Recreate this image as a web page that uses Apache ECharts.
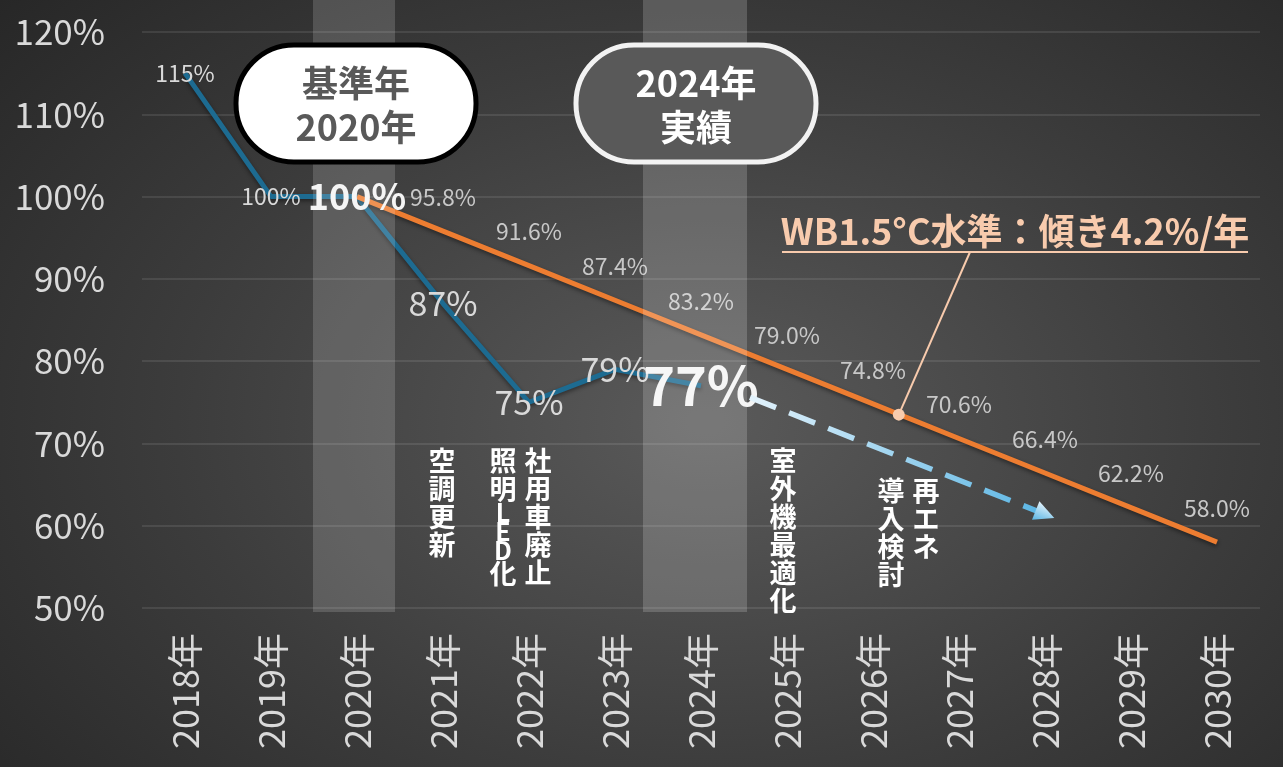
<!DOCTYPE html>
<html>
<head>
<meta charset="utf-8">
<script src="https://cdn.jsdelivr.net/npm/echarts/dist/echarts.min.js"></script>
<style>
html, body { margin: 0; padding: 0; }
#main {
    width: 1283px; height: 767px;
    background: radial-gradient(ellipse 75% 85% at 55% 55%, #5a5a5a 0%, #3c3c3c 55%, #262626 100%);
}
</style>
</head>
<body>
<div id="main"></div>
<script>
var years = ['2018年', '2019年', '2020年', '2021年', '2022年', '2023年', '2024年',
             '2025年', '2026年', '2027年', '2028年', '2029年', '2030年'];
// 実績 (2020 = 100%)
var actual = [115, 100, 100, 87, 75, 79, 77];
// WB1.5°C水準 (-4.2%/年)
var target = [null, null, 100, 95.8, 91.6, 87.4, 83.2, 79.0, 74.8, 70.6, 66.4, 62.2, 58.0];
// 見通し矢印 [category index, %]
var outlook = [[6.57, 75.6], [10.0, 61.4]];
var wbAnchor = [8.3, 73.5];
var yMin = 50, yMax = 120, yStep = 10;

var FONT = "'Noto Sans CJK JP', 'Noto Sans', sans-serif";

function actualLabel(i) {
    if (i === 2) return { show: true, position: 'inside', fontSize: 36, fontWeight: 'bold', color: '#f4f4f4' };
    if (i === 6) return { show: true, position: 'inside', fontSize: 54, fontWeight: 'bold', color: '#f4f4f4' };
    if (i < 2) return { show: true, position: 'inside', fontSize: 23, color: '#d9d9d9' };
    return { show: true, position: 'inside', fontSize: 34, color: '#d9d9d9' };
}

var actualData = actual.map(function (v, i) {
    return { value: v, label: actualLabel(i) };
});
var targetData = target.map(function (v, i) {
    if (v === null) return null;
    return { value: v, label: { show: i > 2 } };
});

var chart = echarts.init(document.getElementById('main'));

var option = {
    backgroundColor: 'transparent',
    animation: false,
    textStyle: { fontFamily: FONT },
    grid: { left: 142, right: 23, top: 32, bottom: 159 },
    xAxis: [{
        type: 'category',
        data: years,
        boundaryGap: true,
        axisLine: { show: false },
        axisTick: { show: false },
        axisLabel: { rotate: 90, fontSize: 36, color: '#d9d9d9', margin: 25, fontFamily: FONT }
    }, {
        type: 'value',
        min: -0.5, max: 12.5,
        show: false
    }],
    yAxis: {
        type: 'value',
        min: yMin, max: yMax, interval: yStep,
        axisLine: { show: false },
        axisTick: { show: false },
        axisLabel: { formatter: '{value}%', fontSize: 35, color: '#d9d9d9', margin: 37, fontFamily: FONT },
        splitLine: { lineStyle: { color: 'rgba(255,255,255,0.13)', width: 1.5 } }
    },
    series: [{
        name: '実績',
        type: 'line',
        data: actualData,
        symbol: 'circle',
        symbolSize: 1,
        showSymbol: true,
        itemStyle: { color: 'rgba(0,0,0,0)' },
        z: 2,
        lineStyle: { color: '#1d6b91', width: 5, shadowColor: 'rgba(0,0,0,0.45)', shadowBlur: 4, shadowOffsetY: 2 },
        label: {
            fontFamily: FONT,
            formatter: function (p) { return p.value + '%'; }
        }
    }, {
        name: 'WB1.5°C水準',
        type: 'line',
        data: targetData,
        symbol: 'circle',
        symbolSize: 1,
        showSymbol: true,
        itemStyle: { color: 'rgba(0,0,0,0)' },
        z: 2,
        lineStyle: { color: '#ed7d31', width: 5, shadowColor: 'rgba(0,0,0,0.45)', shadowBlur: 4, shadowOffsetY: 2 },
        label: {
            position: 'top', distance: 22, fontSize: 23, color: '#c8c8c8', fontFamily: FONT,
            formatter: function (p) { return p.value.toFixed(1) + '%'; }
        }
    }, {
        name: '見通し',
        type: 'line',
        xAxisIndex: 1,
        data: [],
        markLine: {
            silent: true,
            symbol: ['none', 'triangle'],
            symbolSize: [20, 20],
            label: { show: false },
            lineStyle: {
                type: [28, 14],
                width: 5.5,
                color: new echarts.graphic.LinearGradient(0, 0, 1, 0, [
                    { offset: 0, color: '#e4f3fc' },
                    { offset: 1, color: '#58b4e3' }
                ])
            },
            data: [[{ coord: outlook[0] }, { coord: outlook[1], itemStyle: { color: '#58b4e3' } }]]
        }
    }]
};
chart.setOption(option);

function px(cat) { return chart.convertToPixel({ xAxisIndex: 0 }, cat); }
function py(v) { return chart.convertToPixel({ yAxisIndex: 0 }, v); }

function vtext(str) {
    return str.split('').map(function (ch) {
        return /[A-Za-z]/.test(ch) ? '{l|' + ch + '}' : '{c|' + ch + '}';
    }).join('\n');
}
function vlabel(str, x, y) {
    return {
        type: 'text', z: 6, x: x, y: y,
        style: {
            text: vtext(str),
            align: 'center', textAlign: 'center',
            verticalAlign: 'top', textVerticalAlign: 'top',
            rich: {
                c: { fontSize: 27, fontWeight: 'bold', lineHeight: 28, fill: '#ffffff', fontFamily: FONT, align: 'center' },
                l: { fontSize: 25, fontWeight: 'bold', lineHeight: 19, fill: '#ffffff', fontFamily: FONT, align: 'center' }
            }
        }
    };
}

var bandBottom = py(49.5);
var x2020 = px('2020年'), x2024 = px('2024年');
var anchor = chart.convertToPixel({ xAxisIndex: 1, yAxisIndex: 0 }, wbAnchor);
var titleX = 1015, titleLineY = 252, leaderTopX = 970;

chart.setOption({
    graphic: [
        // 強調帯
        { type: 'rect', z: 3, silent: true, shape: { x: x2020 - 44, y: 0, width: 82, height: bandBottom },
          style: { fill: 'rgba(255,255,255,0.16)' } },
        { type: 'rect', z: 3, silent: true, shape: { x: x2024 - 58, y: 0, width: 104, height: bandBottom },
          style: { fill: 'rgba(255,255,255,0.18)' } },
        // 基準年
        { type: 'rect', z: 5, shape: { x: x2020 - 121, y: 45, width: 240, height: 117, r: 58 },
          style: { fill: '#ffffff', stroke: '#000000', lineWidth: 5 } },
        { type: 'text', z: 6, x: x2020 - 1, y: 105,
          style: { text: '基準年\n2020年', fill: '#595959', font: 'bold 36px ' + FONT, lineHeight: 44,
                   align: 'center', textAlign: 'center', verticalAlign: 'middle', textVerticalAlign: 'middle' } },
        // 2024年実績
        { type: 'rect', z: 5, shape: { x: x2024 - 125, y: 45, width: 240, height: 117, r: 58 },
          style: { fill: '#595959', stroke: '#f2f2f2', lineWidth: 5 } },
        { type: 'text', z: 6, x: x2024 - 5, y: 105,
          style: { text: '2024年\n実績', fill: '#ffffff', font: 'bold 36px ' + FONT, lineHeight: 44,
                   align: 'center', textAlign: 'center', verticalAlign: 'middle', textVerticalAlign: 'middle' } },
        // 施策
        vlabel('空調更新', px('2021年') - 1, 447),
        vlabel('照明LED化', px('2022年') - 26, 447),
        vlabel('社用車廃止', px('2022年') + 9, 447),
        vlabel('室外機最適化', px('2025年') - 4, 447),
        vlabel('導入検討', px('2026年') + 18, 477),
        vlabel('再エネ', px('2026年') + 53, 477),
        // WB1.5°C 注記
        { type: 'text', z: 6, x: titleX, y: titleLineY - 3,
          style: { text: 'WB1.5°C水準：傾き4.2%/年', fill: '#f8cbad', font: 'bold 36px ' + FONT,
                   align: 'center', textAlign: 'center', verticalAlign: 'bottom', textVerticalAlign: 'bottom' } },
        { type: 'line', z: 6, shape: { x1: 782, y1: titleLineY, x2: 1248, y2: titleLineY },
          style: { stroke: '#f8cbad', lineWidth: 2 } },
        { type: 'line', z: 6, shape: { x1: leaderTopX, y1: titleLineY, x2: anchor[0], y2: anchor[1] },
          style: { stroke: '#f8cbad', lineWidth: 2 } },
        { type: 'circle', z: 6, shape: { cx: anchor[0], cy: anchor[1], r: 6 },
          style: { fill: '#f8cbad' } }
    ]
});
</script>
</body>
</html>
